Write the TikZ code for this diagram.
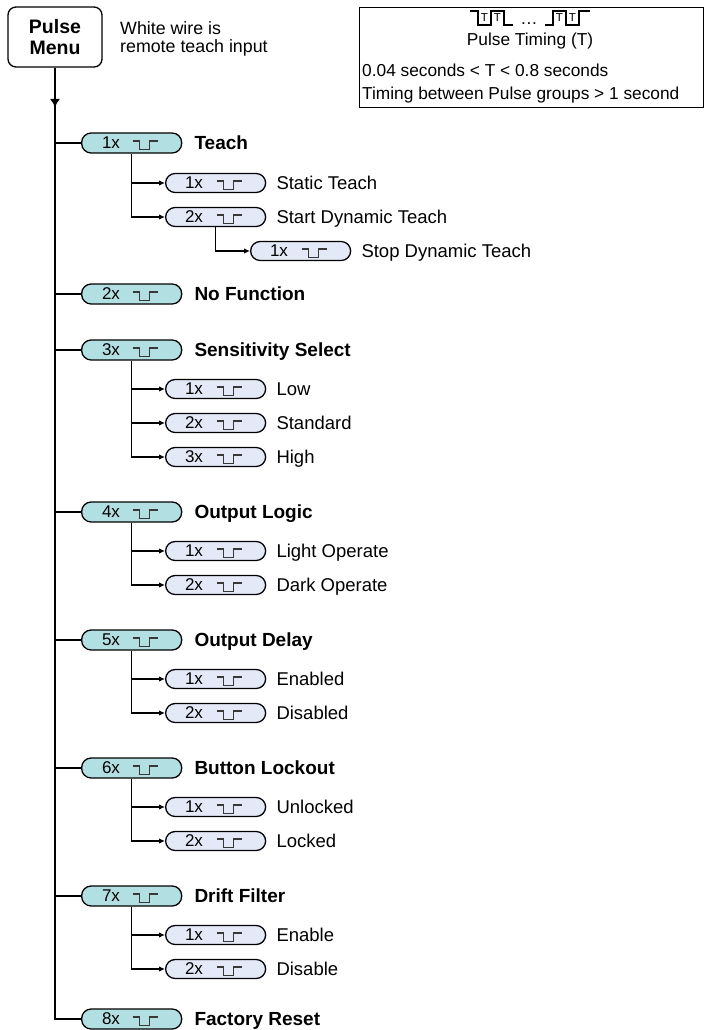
\documentclass[tikz,border=0pt]{standalone}
\usepackage{fontspec}
\setmainfont{Liberation Sans}
\usetikzlibrary{arrows.meta}
\usetikzlibrary{positioning}

\definecolor{pillteal}{HTML}{B2DFE1}
\definecolor{pillblue}{HTML}{E3E9F6}
\definecolor{pulsegray}{HTML}{383838}

\begin{document}
\begin{tikzpicture}[x=1pt, y=-1pt]
  \tikzstyle{link} = [line width=1.2pt]
  \tikzstyle{tip} = [-{Latex[length=6pt, width=5.5pt]}]
  \tikzstyle{pill} = [draw, line width=1.3pt, rounded corners=9.5pt, minimum width=100pt,
    minimum height={#1}, inner sep=0pt, anchor=west,
    path picture={\draw[pulsegray, line width=1.2pt, sharp corners]
      ([xshift=51pt, yshift=2pt]path picture bounding box.west)
      -- ++(7pt,0pt) -- ++(0pt,-8.5pt) -- ++(10pt,0pt) -- ++(0pt,8.5pt) -- ++(8pt,0pt);}]
  \tikzstyle{mainpill} = [pill=20pt, fill=pillteal]
  \tikzstyle{subpill} = [pill=19pt, fill=pillblue]
  \tikzstyle{count} = [inner sep=0pt, font=\fontsize{17}{17}\selectfont]
  \tikzstyle{mainlabel} = [inner sep=0pt, text height=13.6pt, text depth=0pt,
    font=\fontsize{19}{19}\selectfont\bfseries]
  \tikzstyle{sublabel} = [inner sep=0pt, text height=13.2pt, text depth=0pt,
    font=\fontsize{18.5}{18.5}\selectfont]
  \tikzstyle{timetext} = [inner sep=0pt, font=\fontsize{17.3}{17.3}\selectfont]
  \useasboundingbox (0,0) rectangle (705,1030);

  % header
  \node[draw, line width=1.3pt, rounded corners=8pt, minimum width=94pt, minimum height=60pt,
    align=center, font=\fontsize{19.5}{21}\selectfont\bfseries] (menu) at (55,37) {Pulse\\Menu};
  \node[anchor=base west, inner sep=0pt, align=left,
    font=\fontsize{17.8}{18.5}\selectfont] (wire) at (120,53) {White wire is\\remote teach input};

  % timing box
  \node[draw, line width=1.2pt, minimum width=344pt, minimum height=100pt, inner sep=0pt,
    anchor=north west] (timing) at (359,7) {};
  \draw[line width=1.1pt] (470,11) -- (478,11) -- (478,25) -- (491,25) -- (491,11) -- (504,11)
    -- (504,25) -- (513,25);
  \draw[line width=1.1pt] (545,25) -- (553,25) -- (553,11) -- (566,11) -- (566,25) -- (579,25)
    -- (579,11) -- (590,11);
  \foreach \x [count=\i] in {484.5, 497.5, 559.5, 572.5}
    \node[inner sep=0pt, font=\fontsize{11.5}{11.5}\selectfont] (tee\i) at (\x,18) {T};
  \node[timetext, anchor=base] (dots) at (529,25) {\dots};
  \node[timetext, anchor=base] (ptitle) at (530,46) {Pulse Timing (T)};
  \node[timetext, anchor=base west] (tline1) at (362,77) {0.04 seconds < T < 0.8 seconds};
  \node[timetext, anchor=base west] (tline2) at (362,100) {Timing between Pulse groups > 1 second};

  % main menu items
  \foreach \n/\y/\txt in {1/143/Teach, 2/294/No Function, 3/350/Sensitivity Select,
      4/512/Output Logic, 5/640/Output Delay, 6/768/Button Lockout, 7/896/Drift Filter,
      8/1019/Factory Reset} {
    \node[mainpill] (m\n) at (81,\y) {};
    \node[count] (mc\n) at ([xshift=30pt]m\n.west) {\n x};
    \node[mainlabel, right=12pt of m\n] (ml\n) {\txt};
    \draw[link] (menu.south |- m\n.west) -- (m\n.west);
  }
  \coordinate (tip) at (55,107);
  \draw[link] (menu.south) -- (menu.south |- m8.west) -- (m8.west);
  \draw[link, -{Latex[length=8pt, width=10pt]}] (menu.south) -- (tip);

  % sub items
  \foreach \m/\n/\y/\txt in {1/1/183/Static Teach, 1/2/217/Start Dynamic Teach,
      3/1/389/Low, 3/2/423/Standard, 3/3/457/High,
      4/1/551/Light Operate, 4/2/585/Dark Operate,
      5/1/679/Enabled, 5/2/713/Disabled,
      6/1/807/Unlocked, 6/2/841/Locked,
      7/1/935/Enable, 7/2/969/Disable} {
    \node[subpill] (s\m\n) at (165,\y) {};
    \node[count] (sc\m\n) at ([xshift=29pt]s\m\n.west) {\n x};
    \node[sublabel, right=10pt of s\m\n] (sl\m\n) {\txt};
    \draw[link, tip] (m\m.south) |- (s\m\n.west);
  }
  \node[subpill] (s121) at (250,251) {};
  \node[count] (sc121) at ([xshift=29pt]s121.west) {1x};
  \node[sublabel, right=10pt of s121] (sl121) {Stop Dynamic Teach};
  \draw[link, tip] (s12.south) |- (s121.west);
\end{tikzpicture}
\end{document}
